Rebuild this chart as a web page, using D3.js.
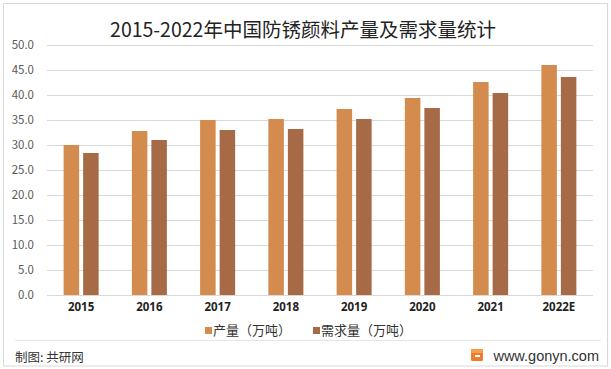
<!DOCTYPE html>
<html>
<head>
<meta charset="utf-8">
<script src="https://cdn.jsdelivr.net/npm/d3@7"></script>
<style>
  html, body { margin: 0; padding: 0; background: #fff; }
  svg { display: block; }
</style>
</head>
<body>
<svg id="chart" width="611" height="369"></svg>
<script>
const categories = ["2015", "2016", "2017", "2018", "2019", "2020", "2021", "2022E"];
const production = [30.0, 32.8, 35.0, 35.2, 37.2, 39.4, 42.6, 46.0];
const demand = [28.4, 31.0, 33.0, 33.2, 35.2, 37.4, 40.4, 43.6];
const seriesNames = ["产量（万吨）", "需求量（万吨）"];
const yTicks = [0, 5, 10, 15, 20, 25, 30, 35, 40, 45, 50];
const title = "2015-2022年中国防锈颜料产量及需求量统计";

const colors = ["#D38B4E", "#A66B46"];
const font = "'Microsoft YaHei', 'Noto Sans CJK SC', 'Noto Sans', sans-serif";

const svg = d3.select("#chart");
const W = 611, H = 369;
const plot = { left: 47, right: 593, top: 45, bottom: 295 };

// outer border
svg.append("rect").attr("x", 3.5).attr("y", 3.5).attr("width", W - 7).attr("height", H - 6.5)
  .attr("fill", "#fff").attr("stroke", "#D9D9D9").attr("stroke-width", 1);

// title
svg.append("text").attr("x", 303).attr("y", 37).attr("text-anchor", "middle")
  .attr("font-family", font).attr("font-size", 19.5).attr("fill", "#222")
  .text(title);

const x0 = d3.scaleBand().domain(categories).range([plot.left, plot.right])
  .paddingInner(0.487).paddingOuter(0.2435);
const x1 = d3.scaleBand().domain([0, 1]).range([0, x0.bandwidth()]).paddingInner(0.205);
const y = d3.scaleLinear().domain([0, 50]).range([plot.bottom, plot.top]);

// gridlines
svg.append("g").selectAll("line").data(yTicks).join("line")
  .attr("x1", plot.left).attr("x2", plot.right)
  .attr("y1", d => Math.round(y(d)) + 0.5).attr("y2", d => Math.round(y(d)) + 0.5)
  .attr("stroke", "#D9D9D9").attr("stroke-width", 1);

// y axis labels
const yAxis = d3.axisLeft(y).tickValues(yTicks).tickFormat(d3.format(".1f")).tickSize(0).tickPadding(0);
const yg = svg.append("g").attr("transform", `translate(34,0)`).call(yAxis);
yg.select(".domain").remove();
yg.selectAll("text").attr("font-family", font).attr("font-size", 11.5).attr("fill", "#595959");

// bars
const data = categories.map((c, i) => ({ c, vals: [production[i], demand[i]] }));
const groups = svg.append("g").selectAll("g").data(data).join("g")
  .attr("transform", d => `translate(${x0(d.c)},0)`);
groups.selectAll("rect").data(d => d.vals.map((v, k) => ({ v, k }))).join("rect")
  .attr("x", d => x1(d.k)).attr("width", x1.bandwidth())
  .attr("y", d => y(d.v)).attr("height", d => y(0) - y(d.v))
  .attr("fill", d => colors[d.k]);

// x axis labels
const xAxis = d3.axisBottom(x0).tickSize(0).tickPadding(0);
const xg = svg.append("g").attr("transform", `translate(0,${plot.bottom + 8})`).call(xAxis);
xg.select(".domain").remove();
xg.selectAll("text").attr("font-family", "'Microsoft YaHei', 'Noto Sans', sans-serif")
  .attr("font-size", 11.5).attr("font-weight", "bold").attr("fill", "#222");

// legend
const legendX = [205, 313];
const lg = svg.append("g").selectAll("g").data(seriesNames).join("g")
  .attr("transform", (d, i) => `translate(${legendX[i]},327)`);
lg.append("rect").attr("width", 7).attr("height", 7).attr("fill", (d, i) => colors[i]);
lg.append("text").attr("x", 8).attr("y", 8).attr("font-family", font)
  .attr("font-size", 13).attr("fill", "#333").text(d => d);

// footer
svg.append("line").attr("x1", 15).attr("x2", 601).attr("y1", 340.5).attr("y2", 340.5)
  .attr("stroke", "#E6E6E6").attr("stroke-width", 1);
svg.append("text").attr("x", 15).attr("y", 362).attr("font-family", font)
  .attr("font-size", 12.5).attr("fill", "#333").text("制图: 共研网");
// logo
const logo = svg.append("g").attr("transform", "translate(471,349)");
logo.append("rect").attr("width", 12).attr("height", 12).attr("rx", 1.5).attr("fill", "#EE7B30");
logo.append("rect").attr("x", 0).attr("y", 0).attr("width", 12).attr("height", 4).attr("fill", "#F6A04A");
logo.append("rect").attr("x", 4).attr("y", 6).attr("width", 5).attr("height", 2).attr("fill", "#fff");
svg.append("text").attr("x", 599).attr("y", 361).attr("text-anchor", "end")
  .attr("font-family", "'Liberation Sans', Arial, sans-serif")
  .attr("font-size", 14.5).attr("fill", "#333").text("www.gonyn.com");
</script>
</body>
</html>
